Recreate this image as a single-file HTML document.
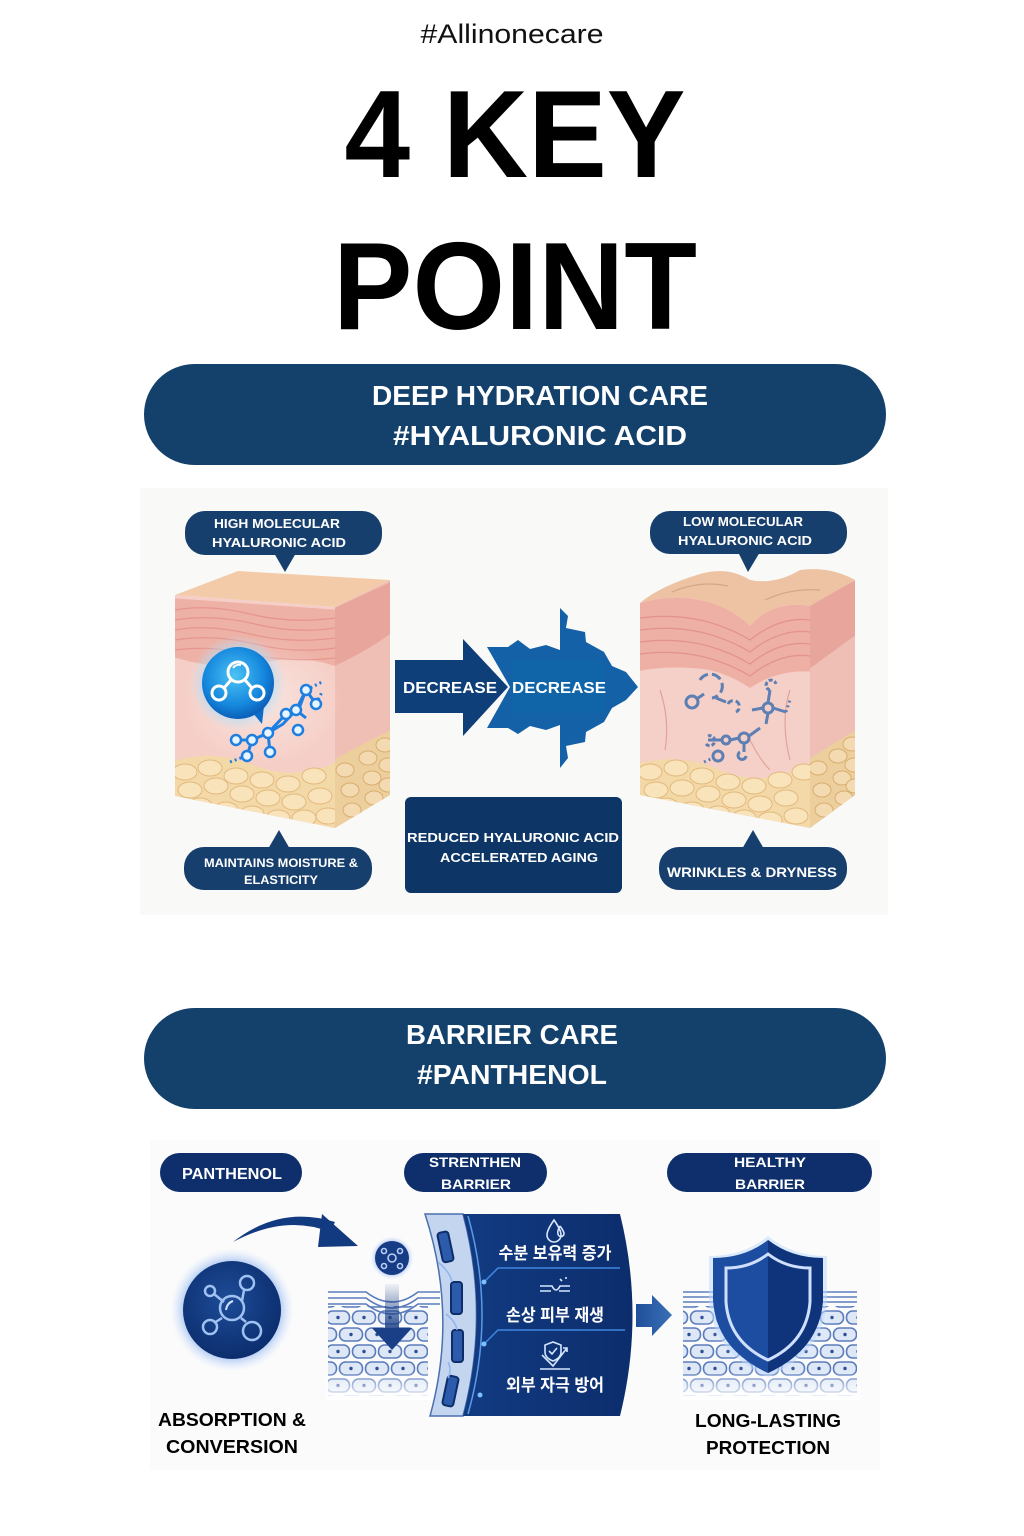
<!DOCTYPE html>
<html><head><meta charset="utf-8"><style>
html,body{margin:0;padding:0;background:#fff;}
svg{display:block;}
text{font-family:"Liberation Sans","Noto Sans CJK KR",sans-serif;}
</style></head><body>
<svg width="1024" height="1536" viewBox="0 0 1024 1536" xmlns="http://www.w3.org/2000/svg">
<defs>
  <radialGradient id="blueBall" cx="45%" cy="40%" r="60%">
    <stop offset="0" stop-color="#4cc3f5"/><stop offset="0.7" stop-color="#1486dc"/><stop offset="1" stop-color="#0b5fb8"/>
  </radialGradient>
  <radialGradient id="glowB" cx="50%" cy="50%" r="50%">
    <stop offset="0.55" stop-color="#8fd6ff" stop-opacity="0.9"/><stop offset="1" stop-color="#bfe8ff" stop-opacity="0"/>
  </radialGradient>
  <radialGradient id="glowN" cx="50%" cy="50%" r="50%">
    <stop offset="0.7" stop-color="#6b9be8" stop-opacity="0.8"/><stop offset="1" stop-color="#cfe0ff" stop-opacity="0"/>
  </radialGradient>
  <radialGradient id="navyBall" cx="45%" cy="40%" r="60%">
    <stop offset="0" stop-color="#1d4c98"/><stop offset="1" stop-color="#0c2e6e"/>
  </radialGradient>
  <radialGradient id="whiteGlow" cx="50%" cy="50%" r="50%">
    <stop offset="0" stop-color="#fff" stop-opacity="0.85"/><stop offset="1" stop-color="#fff" stop-opacity="0"/>
  </radialGradient>
  <linearGradient id="panel" x1="0" y1="0" x2="1" y2="0">
    <stop offset="0" stop-color="#123b82"/><stop offset="1" stop-color="#0c2d6c"/>
  </linearGradient>
  <linearGradient id="shaft" x1="0" y1="0" x2="0" y2="1">
    <stop offset="0" stop-color="#1b3f86" stop-opacity="0.05"/><stop offset="1" stop-color="#1b3f86" stop-opacity="0.9"/>
  </linearGradient>
  <linearGradient id="fadeDown" x1="0" y1="0" x2="0" y2="1">
    <stop offset="0" stop-color="#fff" stop-opacity="0"/><stop offset="1" stop-color="#fff" stop-opacity="0.95"/>
  </linearGradient>
  <linearGradient id="rArrow" x1="0" y1="0" x2="1" y2="0">
    <stop offset="0" stop-color="#1f4f98"/><stop offset="1" stop-color="#3a70b8"/>
  </linearGradient>
  <pattern id="cells" x="0" y="0" width="26" height="34" patternUnits="userSpaceOnUse">
    <rect x="1.5" y="2" width="23" height="13" rx="6" fill="#dde7f6" stroke="#5a7cbd" stroke-width="1.6"/>
    <circle cx="13" cy="8.5" r="1.7" fill="#2d4d97"/>
    <rect x="-11.5" y="19" width="23" height="13" rx="6" fill="#dde7f6" stroke="#5a7cbd" stroke-width="1.6"/>
    <rect x="14.5" y="19" width="23" height="13" rx="6" fill="#dde7f6" stroke="#5a7cbd" stroke-width="1.6"/>
    <circle cx="0" cy="25.5" r="1.7" fill="#2d4d97"/>
    <circle cx="26" cy="25.5" r="1.7" fill="#2d4d97"/>
  </pattern>
  <clipPath id="lf"><polygon points="175,595 335,607 335,828 175,796"/></clipPath>
  <clipPath id="ls"><polygon points="335,607 390,580 390,795 335,828"/></clipPath>
  <clipPath id="rf"><path d="M640,603 Q670,594 700,600 Q730,606 750,626 Q772,600 810,606 L810,828 L640,795 Z"/></clipPath>
  <clipPath id="rs"><polygon points="810,606 855,580 855,795 810,828"/></clipPath>
</defs>

<!-- Title -->
<text x="512" y="43" font-size="27" text-anchor="middle" textLength="183" lengthAdjust="spacingAndGlyphs" fill="#111">#Allinonecare</text>
<text x="515" y="177" font-size="124" font-weight="bold" text-anchor="middle" textLength="341" lengthAdjust="spacingAndGlyphs" fill="#000">4 KEY</text>
<text x="515" y="329" font-size="124" font-weight="bold" text-anchor="middle" textLength="364" lengthAdjust="spacingAndGlyphs" fill="#000">POINT</text>

<!-- Banner 1 -->
<rect x="144" y="364" width="742" height="101" rx="50.5" fill="#14416b"/>
<text x="540" y="405" font-size="28" font-weight="bold" text-anchor="middle" textLength="336" lengthAdjust="spacingAndGlyphs" fill="#fff">DEEP HYDRATION CARE</text>
<text x="540" y="445" font-size="28" font-weight="bold" text-anchor="middle" textLength="294" lengthAdjust="spacingAndGlyphs" fill="#fff">#HYALURONIC ACID</text>

<!-- Diagram 1 background -->
<rect x="140" y="488" width="748" height="427" fill="#f9f9f7"/>

<!-- LEFT CUBE -->
<polygon points="175,595 238,571 390,580 335,607" fill="#f3cba9"/>
<g clip-path="url(#lf)">
  <rect x="170" y="590" width="170" height="240" fill="#f5cfc7"/>
  <path d="M170,598 L340,610 L340,668 Q300,652 260,664 Q220,672 170,656 Z" fill="#eeb1a6"/>
  <g fill="none" stroke="#e38f88" stroke-width="1.3" opacity="0.8">
    <path d="M175,610 Q210,604 250,614 T335,618"/>
    <path d="M175,620 Q215,614 255,624 T335,628"/>
    <path d="M175,630 Q210,624 250,634 T335,638"/>
    <path d="M175,640 Q215,634 255,644 T335,648"/>
    <path d="M175,650 Q210,645 250,654 T335,658"/>
  </g>
  <path d="M170,762 Q215,748 255,766 Q300,782 340,760 L340,830 L170,830 Z" fill="#f4d9a8"/>
  <g fill="#f8e3bb" stroke="#e2b97d" stroke-width="1">
    <ellipse cx="185" cy="772" rx="12" ry="8"/><ellipse cx="210" cy="768" rx="12" ry="8"/><ellipse cx="236" cy="776" rx="12" ry="8"/>
    <ellipse cx="262" cy="780" rx="12" ry="8"/><ellipse cx="288" cy="784" rx="12" ry="8"/><ellipse cx="314" cy="776" rx="12" ry="8"/>
    <ellipse cx="190" cy="790" rx="12" ry="8"/><ellipse cx="216" cy="786" rx="12" ry="8"/><ellipse cx="242" cy="794" rx="12" ry="8"/>
    <ellipse cx="268" cy="798" rx="12" ry="8"/><ellipse cx="294" cy="802" rx="12" ry="8"/><ellipse cx="320" cy="796" rx="12" ry="8"/>
    <ellipse cx="200" cy="806" rx="12" ry="8"/><ellipse cx="226" cy="810" rx="12" ry="8"/><ellipse cx="252" cy="814" rx="12" ry="8"/>
    <ellipse cx="278" cy="818" rx="12" ry="8"/><ellipse cx="304" cy="818" rx="12" ry="8"/><ellipse cx="328" cy="816" rx="12" ry="8"/>
  </g>
</g>
<g clip-path="url(#ls)">
  <rect x="330" y="575" width="65" height="260" fill="#efbfb6"/>
  <path d="M330,610 L395,580 L395,630 Q370,650 330,668 Z" fill="#e8a59b"/>
  <path d="M330,762 Q360,745 395,728 L395,830 L330,830 Z" fill="#eccf9c"/>
  <g fill="#f3dab0" stroke="#d9ae70" stroke-width="1">
    <ellipse cx="345" cy="770" rx="9" ry="7"/><ellipse cx="368" cy="758" rx="9" ry="7"/><ellipse cx="385" cy="745" rx="9" ry="7"/>
    <ellipse cx="350" cy="790" rx="9" ry="7"/><ellipse cx="372" cy="778" rx="9" ry="7"/><ellipse cx="388" cy="765" rx="9" ry="7"/>
    <ellipse cx="352" cy="810" rx="9" ry="7"/><ellipse cx="374" cy="798" rx="9" ry="7"/><ellipse cx="388" cy="785" rx="9" ry="7"/>
  </g>
</g>
<ellipse cx="262" cy="700" rx="80" ry="65" fill="url(#whiteGlow)" opacity="0.5"/>
<!-- molecule chain -->
<g stroke="#1e7fe0" stroke-width="3" fill="none">
  <path d="M236,740 L252,740 L268,733 L283,724 L296,710 L306,690 L300,706 L286,714 L268,733 L270,752"/>
  <path d="M252,740 L247,756"/>
  <path d="M306,690 L316,704"/>
  <path d="M296,710 L306,718"/>
  <path d="M230,762 L246,756" stroke-dasharray="2 3"/>
  <path d="M306,690 L322,682" stroke-dasharray="2 3"/>
  <path d="M316,704 L322,692" stroke-dasharray="2 3"/>
</g>
<g fill="#e6f5ff" stroke="#1e7fe0" stroke-width="2.5">
  <circle cx="236" cy="740" r="5"/><circle cx="252" cy="740" r="5"/><circle cx="268" cy="733" r="5"/>
  <circle cx="247" cy="756" r="5"/><circle cx="270" cy="752" r="5"/><circle cx="286" cy="714" r="5"/>
  <circle cx="296" cy="710" r="5"/><circle cx="306" cy="690" r="5"/><circle cx="316" cy="704" r="5"/>
  <circle cx="298" cy="730" r="5"/>
</g>
<!-- blue ball -->
<circle cx="238" cy="683" r="48" fill="url(#glowB)"/>
<path d="M252,712 L262,724 L264,706 Z" fill="#0f6cc6"/>
<circle cx="238" cy="683" r="36" fill="url(#blueBall)"/>
<g fill="none" stroke="#fff" stroke-width="3">
  <circle cx="238" cy="672" r="10"/><circle cx="219" cy="693" r="7"/><circle cx="257" cy="693" r="7"/>
  <path d="M231,680 L224,688 M245,680 L252,688"/>
</g>
<path d="M233,668 Q236,664 241,665" stroke="#fff" stroke-width="2" fill="none"/>

<!-- RIGHT CUBE -->
<path d="M640,603 Q660,586 700,574 Q728,566 750,580 Q775,585 800,570 Q830,566 855,580 L810,606 Q772,600 750,626 Q730,606 700,600 Q670,594 640,603 Z" fill="#edc3a4"/>
<path d="M672,592 Q700,580 728,586 M765,600 Q790,588 820,590" stroke="#d6a589" fill="none" stroke-width="1.2"/>
<g clip-path="url(#rf)">
  <rect x="635" y="590" width="180" height="240" fill="#f5d0c8"/>
  <path d="M635,600 Q670,592 700,598 Q730,604 750,624 Q772,598 815,604 L815,672 Q780,668 750,688 Q720,668 690,668 Q660,666 635,672 Z" fill="#eeb0a5"/>
  <g fill="none" stroke="#e08d86" stroke-width="1.3" opacity="0.8">
    <path d="M640,618 Q700,610 750,640 Q780,616 810,620"/>
    <path d="M640,630 Q700,622 750,652 Q780,628 810,632"/>
    <path d="M640,642 Q700,634 750,664 Q780,640 810,644"/>
    <path d="M640,654 Q700,646 750,676 Q780,652 810,656"/>
  </g>
  <g fill="none" stroke="#e2a399" stroke-width="1.2">
    <path d="M660,690 Q670,720 665,750"/><path d="M790,690 Q780,720 790,760"/><path d="M750,740 Q760,760 770,770"/>
  </g>
  <path d="M635,764 Q680,752 720,770 Q770,790 815,760 L815,830 L635,830 Z" fill="#f4d9a8"/>
  <g fill="#f8e3bb" stroke="#e2b97d" stroke-width="1">
    <ellipse cx="650" cy="772" rx="12" ry="8"/><ellipse cx="676" cy="768" rx="12" ry="8"/><ellipse cx="702" cy="776" rx="12" ry="8"/>
    <ellipse cx="728" cy="782" rx="12" ry="8"/><ellipse cx="754" cy="786" rx="12" ry="8"/><ellipse cx="780" cy="780" rx="12" ry="8"/><ellipse cx="804" cy="772" rx="12" ry="8"/>
    <ellipse cx="656" cy="790" rx="12" ry="8"/><ellipse cx="682" cy="788" rx="12" ry="8"/><ellipse cx="708" cy="794" rx="12" ry="8"/>
    <ellipse cx="734" cy="800" rx="12" ry="8"/><ellipse cx="760" cy="804" rx="12" ry="8"/><ellipse cx="786" cy="798" rx="12" ry="8"/>
    <ellipse cx="666" cy="806" rx="12" ry="8"/><ellipse cx="692" cy="810" rx="12" ry="8"/><ellipse cx="718" cy="814" rx="12" ry="8"/>
    <ellipse cx="744" cy="818" rx="12" ry="8"/><ellipse cx="770" cy="820" rx="12" ry="8"/><ellipse cx="796" cy="816" rx="12" ry="8"/>
  </g>
</g>
<g clip-path="url(#rs)">
  <rect x="805" y="575" width="55" height="260" fill="#efbfb6"/>
  <path d="M805,606 L860,578 L860,632 Q835,650 805,672 Z" fill="#e8a59b"/>
  <path d="M805,762 Q830,745 860,728 L860,830 L805,830 Z" fill="#eccf9c"/>
  <g fill="#f3dab0" stroke="#d9ae70" stroke-width="1">
    <ellipse cx="818" cy="768" rx="9" ry="7"/><ellipse cx="838" cy="756" rx="9" ry="7"/><ellipse cx="852" cy="744" rx="9" ry="7"/>
    <ellipse cx="822" cy="790" rx="9" ry="7"/><ellipse cx="842" cy="778" rx="9" ry="7"/><ellipse cx="854" cy="765" rx="9" ry="7"/>
    <ellipse cx="824" cy="810" rx="9" ry="7"/><ellipse cx="844" cy="798" rx="9" ry="7"/><ellipse cx="855" cy="786" rx="9" ry="7"/>
  </g>
</g>
<!-- broken molecules -->
<g fill="none" stroke="#5d7fb3" stroke-width="3">
  <path d="M700,680 A12,12 0 1 1 712,698" stroke-dasharray="10 4"/>
  <circle cx="692" cy="702" r="6"/>
  <path d="M698,698 L704,694"/>
  <path d="M716,698 L726,702"/>
  <path d="M728,704 A6,6 0 1 1 736,712" stroke-dasharray="6 3"/>
  <circle cx="768" cy="708" r="5"/>
  <path d="M768,703 L770,690 M773,708 L786,712 M763,708 L752,710 M768,713 L766,724"/>
  <path d="M770,690 A5,5 0 1 1 776,684" stroke-dasharray="4 2"/>
  <path d="M786,712 L790,700" stroke-dasharray="2 3"/>
  <circle cx="744" cy="738" r="5"/><circle cx="726" cy="740" r="4"/>
  <path d="M708,740 L722,740 M730,740 L739,738 M749,736 L760,728 M744,743 L744,752"/>
  <path d="M706,744 A5,5 0 1 0 708,736" stroke-dasharray="4 2"/>
  <circle cx="718" cy="756" r="5"/>
  <path d="M704,762 L713,758" stroke-dasharray="2 3"/>
  <path d="M740,752 A4,4 0 1 0 746,756"/>
</g>

<!-- Bubbles -->
<g fill="#173f6d">
  <rect x="185" y="511" width="197" height="44" rx="20"/><polygon points="274,553 296,553 285,572"/>
  <rect x="650" y="511" width="197" height="43" rx="20"/><polygon points="738,552 760,552 748,572"/>
  <rect x="184" y="847" width="188" height="43" rx="20"/><polygon points="268,849 290,849 279,830"/>
  <rect x="659" y="847" width="188" height="43" rx="20"/><polygon points="742,849 764,849 753,830"/>
</g>
<g fill="#fff" font-weight="bold" text-anchor="middle">
  <text x="277" y="528" font-size="13" textLength="126" lengthAdjust="spacingAndGlyphs">HIGH MOLECULAR</text>
  <text x="279" y="547" font-size="13" textLength="134" lengthAdjust="spacingAndGlyphs">HYALURONIC ACID</text>
  <text x="743" y="526" font-size="13" textLength="120" lengthAdjust="spacingAndGlyphs">LOW MOLECULAR</text>
  <text x="745" y="545" font-size="13" textLength="134" lengthAdjust="spacingAndGlyphs">HYALURONIC ACID</text>
  <text x="281" y="867" font-size="12" textLength="154" lengthAdjust="spacingAndGlyphs">MAINTAINS MOISTURE &amp;</text>
  <text x="281" y="884" font-size="12" textLength="74" lengthAdjust="spacingAndGlyphs">ELASTICITY</text>
  <text x="752" y="877" font-size="14" textLength="170" lengthAdjust="spacingAndGlyphs">WRINKLES &amp; DRYNESS</text>
</g>

<!-- Decrease arrows -->
<path d="M487,647 L508,647 L518,640 L530,649 L546,645 L560,650 L560,608 L568,616 L566,628 L585,632 L586,642 L604,652 L612,666 L626,672 L638,687 L626,700 L612,708 L604,722 L586,732 L585,742 L566,746 L568,758 L560,768 L560,725 L546,730 L530,726 L518,734 L508,728 L487,728 L510,687 Z" fill="#1561a8"/>
<path d="M395,660 L463,660 L463,639 L508,687 L463,736 L463,713 L395,713 Z" fill="#0f3f79"/>
<rect x="512" y="660" width="91" height="53" fill="#1065a8"/>
<g fill="#fff" font-weight="bold" font-size="16">
  <text x="403" y="693" textLength="94" lengthAdjust="spacingAndGlyphs">DECREASE</text>
  <text x="512" y="693" textLength="94" lengthAdjust="spacingAndGlyphs">DECREASE</text>
</g>
<rect x="405" y="797" width="217" height="96" rx="6" fill="#0d3566"/>
<g fill="#fff" font-weight="bold" font-size="13" text-anchor="middle">
  <text x="513" y="842" textLength="212" lengthAdjust="spacingAndGlyphs">REDUCED HYALURONIC ACID</text>
  <text x="519" y="862" textLength="158" lengthAdjust="spacingAndGlyphs">ACCELERATED AGING</text>
</g>

<!-- Banner 2 -->
<rect x="144" y="1008" width="742" height="101" rx="50.5" fill="#14416b"/>
<text x="512" y="1044" font-size="28" font-weight="bold" text-anchor="middle" textLength="212" lengthAdjust="spacingAndGlyphs" fill="#fff">BARRIER CARE</text>
<text x="512" y="1084" font-size="28" font-weight="bold" text-anchor="middle" textLength="190" lengthAdjust="spacingAndGlyphs" fill="#fff">#PANTHENOL</text>

<!-- Diagram 2 background -->
<rect x="150" y="1140" width="730" height="330" fill="#fbfbfb"/>

<!-- pills -->
<g fill="#0e2f6c">
  <rect x="160" y="1153" width="142" height="39" rx="19.5"/>
  <rect x="404" y="1153" width="143" height="39" rx="19.5"/>
  <rect x="667" y="1153" width="205" height="39" rx="19.5"/>
</g>
<g fill="#fff" font-weight="bold" text-anchor="middle">
  <text x="232" y="1179" font-size="16" textLength="100" lengthAdjust="spacingAndGlyphs">PANTHENOL</text>
  <text x="475" y="1167" font-size="14" textLength="92" lengthAdjust="spacingAndGlyphs">STRENTHEN</text>
  <text x="476" y="1189" font-size="14" textLength="70" lengthAdjust="spacingAndGlyphs">BARRIER</text>
  <text x="770" y="1167" font-size="14" textLength="72" lengthAdjust="spacingAndGlyphs">HEALTHY</text>
  <text x="770" y="1189" font-size="14" textLength="70" lengthAdjust="spacingAndGlyphs">BARRIER</text>
</g>

<!-- Panthenol molecule -->
<circle cx="232" cy="1310" r="62" fill="url(#glowN)"/>
<circle cx="232" cy="1310" r="49" fill="url(#navyBall)"/>
<g fill="none" stroke="#9fc2f2" stroke-width="2.5">
  <path d="M214,1294 L224,1302 M242,1301 L244,1290 M222,1318 L214,1323 M241,1318 L246,1322"/>
  <circle cx="232" cy="1308" r="12"/><circle cx="210" cy="1291" r="5"/><circle cx="247" cy="1283" r="7"/>
  <circle cx="210" cy="1327" r="7"/><circle cx="252" cy="1331" r="9"/>
</g>
<path d="M226,1310 Q227,1303 233,1301" stroke="#cfe0ff" stroke-width="2" fill="none"/>
<!-- curved arrow -->
<path d="M233,1242 Q280,1205 335,1222 L330,1232 Q285,1214 233,1242 Z" fill="#123a80"/>
<polygon points="322,1214 358,1246 318,1247" fill="#123a80"/>

<!-- left cells -->
<rect x="328" y="1306" width="100" height="90" fill="url(#cells)"/>
<g fill="none" stroke="#5a7cbd" stroke-width="1.6">
  <path d="M328,1292 L366,1292 Q392,1312 418,1292 L440,1292"/>
  <path d="M328,1298 L366,1298 Q392,1318 418,1298 L440,1298"/>
  <path d="M328,1304 L366,1304 Q392,1324 418,1304 L440,1304"/>
</g>
<rect x="326" y="1370" width="120" height="30" fill="url(#fadeDown)"/>
<!-- small circle + down arrow -->
<circle cx="392" cy="1258" r="22" fill="url(#glowN)" opacity="0.7"/>
<circle cx="392" cy="1258" r="17" fill="#173c86"/>
<g fill="none" stroke="#b7cdf2" stroke-width="1.6">
  <circle cx="392" cy="1258" r="4"/><circle cx="384" cy="1251" r="2.5"/><circle cx="400" cy="1251" r="2.5"/><circle cx="384" cy="1266" r="2.5"/><circle cx="400" cy="1266" r="2.5"/>
</g>
<rect x="385" y="1284" width="14" height="46" fill="url(#shaft)"/>
<polygon points="372,1328 412,1328 392,1350" fill="#1b3f86"/>

<!-- barrier panel -->
<path d="M425,1214 L463,1214 Q490,1315 463,1416 L430,1416 Q458,1315 425,1214 Z" fill="#c3d5ef" stroke="#4b6fb0" stroke-width="1.5"/>
<path d="M463,1214 L620,1214 Q645,1315 620,1416 L463,1416 Q490,1315 463,1214 Z" fill="url(#panel)"/>
<path d="M468,1216 Q496,1315 468,1414" stroke="#6fb4ff" stroke-width="1.5" fill="none" opacity="0.8"/>
<g fill="#2d5bab" stroke="#0e2c68" stroke-width="2">
  <rect x="440" y="1232" width="11" height="30" rx="3" transform="rotate(-12 445 1247)"/>
  <rect x="451" y="1282" width="11" height="32" rx="3"/>
  <rect x="452" y="1330" width="11" height="32" rx="3"/>
  <rect x="445" y="1376" width="11" height="30" rx="3" transform="rotate(12 450 1391)"/>
</g>
<g fill="none" stroke="#8fb6ee" stroke-width="1.5">
  <path d="M438,1262 Q450,1272 452,1282 M446,1314 Q456,1322 457,1330 M448,1362 Q452,1370 448,1378"/>
</g>
<g stroke="#3f86e0" stroke-width="1.5" fill="none">
  <path d="M484,1282 L498,1268 L620,1268"/>
  <path d="M484,1344 L498,1330 L625,1330"/>
</g>
<g fill="#7cc0ff"><circle cx="484" cy="1282" r="2.5"/><circle cx="484" cy="1344" r="2.5"/><circle cx="480" cy="1395" r="2.5"/></g>
<!-- icons -->
<g fill="none" stroke="#d6e6ff" stroke-width="1.6">
  <path d="M554,1220 Q547,1230 547,1235 A7,7 0 0 0 561,1235 Q561,1230 554,1220 Z"/>
  <path d="M560,1226 Q557,1231 558,1234 A3,3 0 0 0 564,1233 Q563,1230 560,1226"/>
  <path d="M540,1286 L552,1286 Q556,1294 560,1286 L570,1286 M540,1291 L551,1291 M559,1291 L570,1291"/>
  <path d="M560,1279 L562,1281 M566,1277 L566,1279"/>
  <path d="M553,1342 L561,1345 L561,1352 Q561,1358 553,1361 Q545,1358 545,1352 L545,1345 Z"/>
  <path d="M549,1351 L552,1354 L557,1348"/>
  <path d="M542,1355 L553,1366 L567,1348 M563,1348 L567,1348 L567,1352"/>
  <path d="M540,1369 L570,1369"/>
</g>
<g fill="#fff" font-size="17" font-weight="bold" text-anchor="middle">
  <text x="555" y="1259" textLength="113" lengthAdjust="spacingAndGlyphs">수분 보유력 증가</text>
  <text x="555" y="1321" textLength="98" lengthAdjust="spacingAndGlyphs">손상 피부 재생</text>
  <text x="555" y="1391" textLength="98" lengthAdjust="spacingAndGlyphs">외부 자극 방어</text>
</g>
<!-- right arrow -->
<path d="M636,1304 L652,1304 L652,1295 L672,1315 L652,1336 L652,1327 L636,1327 Z" fill="url(#rArrow)"/>

<!-- right cells + shield -->
<rect x="683" y="1306" width="174" height="90" fill="url(#cells)"/>
<g stroke="#5a7cbd" stroke-width="1.6">
  <path d="M683,1292 L857,1292 M683,1297 L857,1297 M683,1302 L857,1302"/>
</g>
<rect x="680" y="1370" width="180" height="30" fill="url(#fadeDown)"/>
<ellipse cx="768" cy="1305" rx="70" ry="80" fill="url(#whiteGlow)" opacity="0.6"/>
<path d="M768,1236 Q744,1256 709,1256 L709,1300 Q712,1352 768,1377 Q824,1352 827,1300 L827,1256 Q792,1256 768,1236 Z" fill="#bcd7ff" opacity="0.5"/>
<path d="M768,1240 Q745,1258 713,1258 L713,1300 Q716,1349 768,1373 Q820,1349 823,1300 L823,1258 Q791,1258 768,1240 Z" fill="#1d4da0"/>
<path d="M768,1240 Q791,1258 823,1258 L823,1300 Q820,1349 768,1373 Z" fill="#0f347c"/>
<path d="M768,1254 Q750,1268 726,1268 L726,1302 Q729,1342 768,1360 Q807,1342 810,1302 L810,1268 Q786,1268 768,1254 Z" fill="none" stroke="#cfe0ff" stroke-width="3"/>

<!-- bottom labels -->
<g fill="#000" font-weight="bold" font-size="18" text-anchor="middle">
  <text x="232" y="1426" textLength="148" lengthAdjust="spacingAndGlyphs">ABSORPTION &amp;</text>
  <text x="232" y="1453" textLength="132" lengthAdjust="spacingAndGlyphs">CONVERSION</text>
  <text x="768" y="1427" textLength="146" lengthAdjust="spacingAndGlyphs">LONG-LASTING</text>
  <text x="768" y="1454" textLength="124" lengthAdjust="spacingAndGlyphs">PROTECTION</text>
</g>
</svg>
</body></html>
